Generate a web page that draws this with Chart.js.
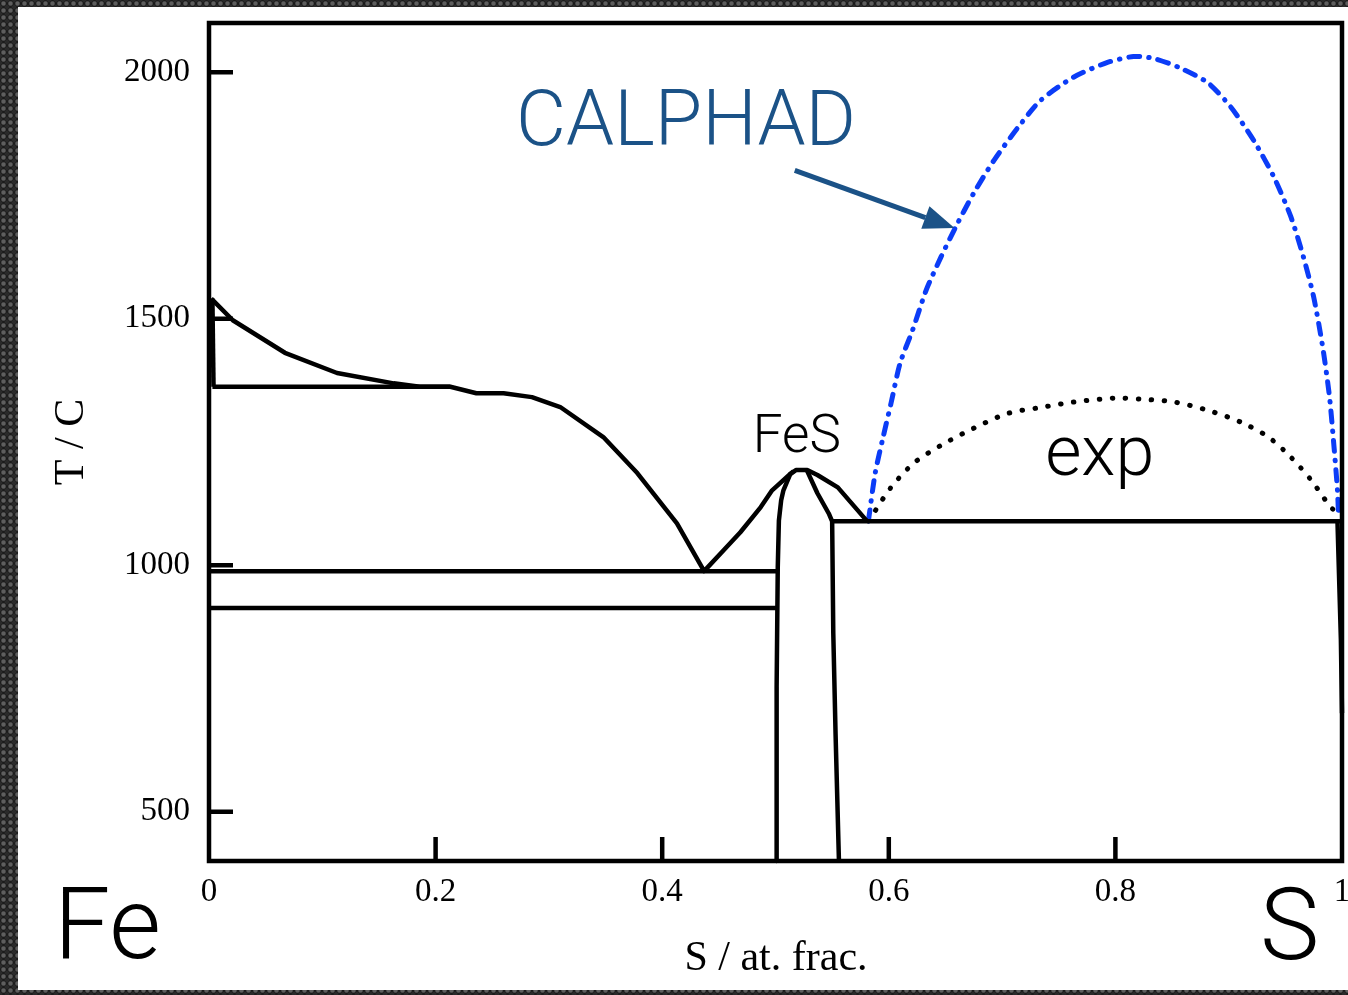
<!DOCTYPE html>
<html>
<head>
<meta charset="utf-8">
<script src="https://cdn.jsdelivr.net/npm/chart.js@4.4.0/dist/chart.umd.min.js"></script>
<style>
  html, body { margin: 0; padding: 0; }
  body {
    width: 1348px; height: 995px; overflow: hidden;
    background-color: #2a2a2a;
    background-image: radial-gradient(circle, #5e5e5e 0 1.5px, #1b1b1b 3px, #2a2a2a 3.6px);
    background-size: 7px 7px;
  }
  #wrap { position: relative; width: 1348px; height: 995px; }
</style>
</head>
<body>
<div id="wrap"><canvas id="chart" width="1348" height="995"></canvas></div>
<script>
// axis ticks
const xTicks = [0, 0.2, 0.4, 0.6, 0.8, 1];
const yTicks = [500, 1000, 1500, 2000];

// liquidus: Fe side -> eutectic -> FeS maximum -> S-side eutectic
const liqX = [0.002, 0.021, 0.067, 0.113, 0.163, 0.186, 0.213, 0.236, 0.260, 0.285, 0.310, 0.348, 0.378, 0.413, 0.437, 0.454, 0.469, 0.487, 0.497, 0.513, 0.518, 0.528, 0.537, 0.555, 0.581];
const liqT = [1541, 1497, 1431, 1390, 1369, 1362, 1362, 1349, 1349, 1341, 1321, 1260, 1187, 1085, 988, 1030, 1067, 1118, 1152, 1185, 1193, 1193, 1183, 1158, 1089];

// delta-Fe solidus and peritectic
const deltaX = [0.003, 0.004];
const deltaT = [1541, 1362];
const periX = [0.003, 0.213];
const periT = [1362, 1362];

// Fe-side invariant lines
const eutX = [0.0, 0.501];
const eutT = [988, 988];
const lowX = [0.0, 0.501];
const lowT = [913, 913];

// FeS phase boundaries
const fesLeftX = [0.516, 0.513, 0.507, 0.505, 0.503, 0.502, 0.501, 0.501];
const fesLeftT = [1191, 1185, 1152, 1132, 1091, 996, 753, 400];
const fesRightX = [0.528, 0.537, 0.547, 0.550, 0.551, 0.553, 0.556];
const fesRightT = [1191, 1146, 1105, 1089, 862, 659, 400];

// S-side eutectic and solidus
const sEutX = [0.550, 1.0];
const sEutT = [1089, 1089];
const sSolX = [0.996, 0.999, 1.0];
const sSolT = [1089, 850, 700];

// miscibility gap, CALPHAD
const calX = [0.582, 0.588, 0.595, 0.602, 0.610, 0.621, 0.633, 0.646, 0.659, 0.675, 0.693, 0.714, 0.734, 0.763, 0.793, 0.816, 0.834, 0.858, 0.882, 0.902, 0.922, 0.940, 0.955, 0.966, 0.975, 0.983, 0.989, 0.993, 0.996, 0.997];
const calT = [1090, 1187, 1260, 1329, 1410, 1477, 1558, 1625, 1686, 1755, 1822, 1888, 1943, 1990, 2020, 2032, 2028, 2008, 1978, 1929, 1862, 1787, 1706, 1625, 1544, 1442, 1341, 1239, 1152, 1097];

// miscibility gap, experiment
const expX = [0.582, 0.587, 0.602, 0.622, 0.646, 0.675, 0.705, 0.734, 0.763, 0.799, 0.822, 0.852, 0.882, 0.911, 0.935, 0.955, 0.973, 0.990, 0.997];
const expT = [1090, 1107, 1158, 1207, 1243, 1278, 1308, 1320, 1331, 1339, 1337, 1331, 1314, 1290, 1260, 1219, 1172, 1118, 1105];

const blue = '#0b3cf7';
const steel = '#1b5287';

function pts(xs, ys) {
  return xs.map((x, i) => ({ x: x, y: ys[i] }));
}

function solid(xs, ys) {
  return {
    data: pts(xs, ys), borderColor: '#000', borderWidth: 4.5,
    borderJoinStyle: 'round', pointRadius: 0, tension: 0, clip: false, order: 1
  };
}

const datasets = [
  solid(liqX, liqT), solid(deltaX, deltaT), solid(periX, periT),
  solid(eutX, eutT), solid(lowX, lowT),
  solid(fesLeftX, fesLeftT), solid(fesRightX, fesRightT),
  solid(sEutX, sEutT), solid(sSolX, sSolT),
  {
    data: pts(calX, calT), borderColor: blue, borderWidth: 5,
    borderDash: [11, 9, 0.5, 9], borderCapStyle: 'round',
    pointRadius: 0, tension: 0.25, clip: false, order: 2
  },
  {
    data: pts(expX, expT), borderColor: '#000', borderWidth: 5,
    borderDash: [0.5, 12.5], borderCapStyle: 'round',
    pointRadius: 0, tension: 0.3, clip: false, order: 2
  }
];

function drawArrow(ctx, x1, y1, x2, y2) {
  const a = Math.atan2(y2 - y1, x2 - x1);
  const len = 31, hw = 12;
  const bx = x2 - len * Math.cos(a), by = y2 - len * Math.sin(a);
  ctx.strokeStyle = steel;
  ctx.fillStyle = steel;
  ctx.lineWidth = 5;
  ctx.beginPath();
  ctx.moveTo(x1, y1);
  ctx.lineTo(bx, by);
  ctx.stroke();
  ctx.beginPath();
  ctx.moveTo(x2, y2);
  ctx.lineTo(bx - hw * Math.sin(a), by + hw * Math.cos(a));
  ctx.lineTo(bx + hw * Math.sin(a), by - hw * Math.cos(a));
  ctx.closePath();
  ctx.fill();
}

const frame = {
  id: 'frame',
  beforeDraw(c) {
    const ctx = c.ctx;
    ctx.save();
    ctx.fillStyle = '#fff';
    ctx.fillRect(18, 7, 1330, 983);
    ctx.restore();
  },
  afterDraw(c) {
    const ctx = c.ctx, a = c.chartArea;
    const xs = c.scales.x, ys = c.scales.y;
    ctx.save();
    ctx.strokeStyle = '#000';
    ctx.lineWidth = 4.5;
    ctx.strokeRect(a.left, a.top, a.right - a.left, a.bottom - a.top);

    // inward ticks
    ctx.beginPath();
    yTicks.forEach(v => {
      const p = ys.getPixelForValue(v);
      ctx.moveTo(a.left, p);
      ctx.lineTo(a.left + 24, p);
    });
    xTicks.slice(1, -1).forEach(v => {
      const p = xs.getPixelForValue(v);
      ctx.moveTo(p, a.bottom);
      ctx.lineTo(p, a.bottom - 24);
    });
    ctx.stroke();

    // axis titles
    ctx.fillStyle = '#000';
    ctx.font = '42px "Liberation Serif", "Times New Roman", serif';
    ctx.textAlign = 'center';
    ctx.textBaseline = 'alphabetic';
    ctx.fillText('S / at. frac.', 776, 970);
    ctx.save();
    ctx.translate(83, 442);
    ctx.rotate(-Math.PI / 2);
    ctx.fillText('T / C', 0, 0);
    ctx.restore();

    // element labels
    ctx.textAlign = 'left';
    ctx.font = '300 100px Roboto, "Liberation Sans", sans-serif';
    ctx.fillText('Fe', 54, 958);
    ctx.fillText('S', 1260, 959);

    ctx.font = '300 53px Roboto, "Liberation Sans", sans-serif';
    ctx.fillText('FeS', xs.getPixelForValue(0.48), ys.getPixelForValue(1229));
    ctx.font = '300 70px Roboto, "Liberation Sans", sans-serif';
    ctx.fillText('exp', xs.getPixelForValue(0.738), ys.getPixelForValue(1183));

    ctx.fillStyle = steel;
    ctx.font = '300 77px Roboto, "Liberation Sans", sans-serif';
    ctx.fillText('CALPHAD', xs.getPixelForValue(0.271), ys.getPixelForValue(1852));

    drawArrow(ctx,
      xs.getPixelForValue(0.517), ys.getPixelForValue(1801),
      xs.getPixelForValue(0.658), ys.getPixelForValue(1684));
    ctx.restore();
  }
};

const tickFont = { family: '"Liberation Serif", "Times New Roman", serif', size: 33 };

new Chart(document.getElementById('chart'), {
  type: 'scatter',
  data: { datasets: datasets },
  options: {
    responsive: false,
    animation: false,
    showLine: true,
    layout: { padding: { left: 0, right: 6, top: 23, bottom: 0 } },
    plugins: { legend: { display: false }, tooltip: { enabled: false } },
    scales: {
      x: {
        type: 'linear', min: 0, max: 1,
        grid: { display: false, drawTicks: false },
        border: { display: false },
        afterBuildTicks: s => { s.ticks = xTicks.map(v => ({ value: v })); },
        afterFit: s => { s.height = 134; s.paddingLeft = 0; s.paddingRight = 0; },
        ticks: {
          color: '#000', font: tickFont, padding: 12, maxRotation: 0,
          callback: v => (v === 0 || v === 1) ? String(v) : v.toFixed(1)
        }
      },
      y: {
        type: 'linear', min: 400, max: 2100,
        grid: { display: false, drawTicks: false },
        border: { display: false },
        afterBuildTicks: s => { s.ticks = yTicks.map(v => ({ value: v })); },
        afterFit: s => { s.width = 209; s.paddingTop = 0; s.paddingBottom = 0; },
        ticks: { color: '#000', font: tickFont, padding: 19, callback: v => String(v) }
      }
    }
  },
  plugins: [frame]
});
</script>
</body>
</html>
